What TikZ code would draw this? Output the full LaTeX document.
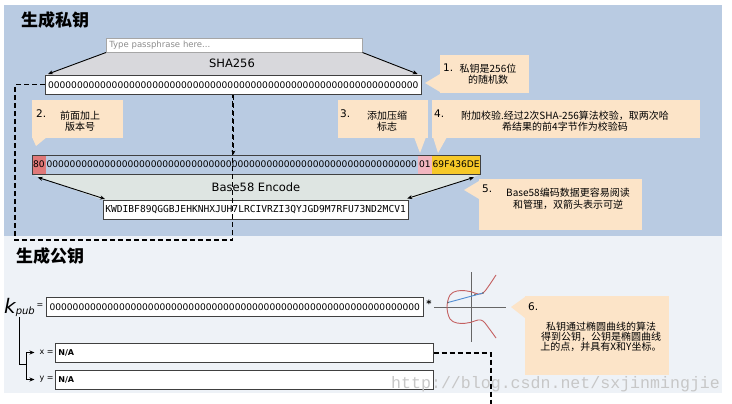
\documentclass[tikz,border=0pt]{standalone}
\usepackage{fontspec}
\usetikzlibrary{arrows.meta,fit,calc}
\setmainfont{DejaVu Sans}
\newfontfamily\cjk{Noto Sans CJK SC}
\newfontfamily\monof{DejaVu Sans Mono}
\newfontfamily\wmf{Liberation Mono}
\definecolor{panelblue}{RGB}{185,203,226}
\definecolor{panellow}{RGB}{238,242,247}
\definecolor{peach}{RGB}{252,228,200}
\definecolor{shagray}{RGB}{216,216,220}
\definecolor{bsgreen}{RGB}{222,229,226}
\definecolor{red80}{RGB}{224,120,120}
\definecolor{pink01}{RGB}{242,182,192}
\definecolor{yelchk}{RGB}{246,200,40}
\definecolor{curvered}{RGB}{196,96,96}
\definecolor{lineblue}{RGB}{80,140,210}
\newcommand\zfont{\fontsize{9.1}{10}\selectfont}
\newcommand\zeight{00000000}
\newcommand\zsixtyfour{\zeight\zeight\zeight\zeight\zeight\zeight\zeight\zeight}
\pgfdeclarelayer{background}
\pgfsetlayers{background,main}
\tikzset{
  keybox/.style={draw=black!75, line width=0.7pt, fill=white, inner sep=0pt, minimum height=19pt, font=\zfont, anchor=north west},
  seg/.style={inner xsep=1pt, inner ysep=0pt, minimum height=19pt, font=\zfont, anchor=west, outer sep=0pt},
  callbox/.style={fill=peach, inner sep=0pt, anchor=north west},
  ctext/.style={font=\cjk\fontsize{10}{11.5}\selectfont, align=center, inner sep=0pt},
  cnum/.style={font=\fontsize{10.5}{12}\selectfont, inner sep=0pt, anchor=west},
  titletext/.style={font=\cjk\bfseries\fontsize{17}{17}\selectfont, inner sep=0pt, anchor=west},
  dashln/.style={line width=1.3pt, dash pattern=on 5pt off 3pt},
  arr/.style={-{Stealth[length=5pt,width=4pt]}, line width=0.9pt},
  darr/.style={{Stealth[length=5pt,width=4pt]}-{Stealth[length=5pt,width=4pt]}, line width=0.9pt},
  small/.style={font=\fontsize{8}{9}\selectfont, inner sep=0pt},
  nabox/.style={draw=black!75, line width=0.7pt, fill=white, inner xsep=3pt, inner ysep=0pt, minimum height=19pt, text width=372pt, align=left, anchor=north west, font=\bfseries\fontsize{8}{9}\selectfont},
}
\begin{document}
\begin{tikzpicture}[x=1pt,y=-1pt]
\useasboundingbox (0,0) rectangle (732,404);
\begin{pgfonlayer}{background}
\fill[white] (0,0) rectangle (732,404);
\fill[panelblue] (4,5) rectangle (722,236);
\fill[panellow] (4,236) rectangle (722,393);
\end{pgfonlayer}

% titles
\node[titletext] (t1) at (21,20) {生成私钥};
\node[titletext] (t2) at (16,256) {生成公钥};

% passphrase and SHA256
\node[draw=black!35, line width=0.5pt, fill=white, inner xsep=3pt, inner ysep=0pt, minimum height=14pt, text width=250pt, align=left, anchor=north west, text=black!45, font=\fontsize{8.5}{10}\selectfont] (pass) at (106,38) {Type passphrase here...};
\node[keybox, minimum width=376pt] (key1) at (45,75) {\zsixtyfour};
\begin{pgfonlayer}{background}
\fill[shagray] (pass.south west) -- (pass.south east) -- (key1.north east) -- (key1.north west) -- cycle;
\end{pgfonlayer}
\node[font=\fontsize{11.5}{12}\selectfont, inner sep=0pt] (sha) at (232,63) {SHA256};
\draw[arr] (pass.south west) -- ([xshift=3pt,yshift=1pt]key1.north west);
\draw[arr] (pass.south east) -- ([xshift=-4pt,yshift=1pt]key1.north east);

% callout 1
\node[callbox, minimum width=89pt, minimum height=38pt] (c1) at (440,55) {};
\fill[peach] (440,74) -- (425,83) -- (440,92) -- cycle;
\node[cnum] (n1) at (443,68) {1.};
\node[ctext] (c1t) at (488,74) {私钥是256位\\的随机数};

% callout 2
\node[callbox, minimum width=91pt, minimum height=38pt] (c2) at (32,100) {};
\fill[peach] (32,137) -- (36,146) -- (47,137) -- cycle;
\node[cnum] (n2) at (36,114) {2.};
\node[ctext] (c2t) at (80,121) {前面加上\\版本号};

% callout 3
\node[callbox, minimum width=90pt, minimum height=38pt] (c3) at (338,100) {};
\fill[peach] (414,137) -- (420,153) -- (426,137) -- cycle;
\node[cnum] (n3) at (340,114) {3.};
\node[ctext] (c3t) at (387,121) {添加压缩\\标志};

% callout 4
\node[callbox, minimum width=268pt, minimum height=38pt] (c4) at (432,100) {};
\fill[peach] (433,137) -- (438,153) -- (447,137) -- cycle;
\node[cnum] (n4) at (434,114) {4.};
\node[ctext] (c4t) at (565,121) {附加校验.经过2次SHA-256算法校验，取两次哈\\希结果的前4字节作为校验码};

% key 2 with segments
\node[seg, fill=red80] (v80) at (32,164.5) {80};
\node[seg] (z2) at (v80.east) {\zsixtyfour};
\node[seg, fill=pink01] (c01) at (z2.east) {01};
\node[seg, fill=yelchk] (chk) at (c01.east) {69F436DE};
\node[draw=black!75, line width=0.7pt, fit=(v80)(chk), inner sep=0pt] (key2) {};

% output
\node[draw=black!75, line width=0.7pt, fill=white, minimum height=19pt, inner xsep=2pt, inner ysep=0pt, anchor=north west, font=\monof\fontsize{9.6}{10}\selectfont] (out) at (103,200) {KWDIBF89QGGBJEHKNHXJUH7LRCIVRZI3QYJGD9M7RFU73ND2MCV1};
\begin{pgfonlayer}{background}
\fill[bsgreen] (key2.south west) -- (key2.south east) -- (out.north east) -- (out.north west) -- cycle;
\end{pgfonlayer}
\node[font=\fontsize{11.5}{12}\selectfont, inner sep=0pt] (b58) at (256,187) {Base58 Encode};
\draw[darr] ([xshift=6pt,yshift=-3pt]key2.south west) -- ([xshift=2pt,yshift=1pt]out.north west);
\draw[darr] ([xshift=-7pt,yshift=-3pt]key2.south east) -- ([xshift=-1pt,yshift=1.5pt]out.north east);

% callout 5
\node[callbox, minimum width=163pt, minimum height=51pt] (c5) at (479,179) {};
\fill[peach] (479,181) -- (464,190) -- (479,199) -- cycle;
\node[cnum] (n5) at (482,189) {5.};
\node[ctext] (c5t) at (568,199) {Base58编码数据更容易阅读\\和管理，双箭头表示可逆};

% dashed flow
\draw[dashln, -{Stealth[length=4pt,width=4pt]}] (key1.south) -- (key1.south |- key2.north);
\coordinate (dl1) at (15,240);
\draw[dashln] (key1.west) -| (dl1) -| ($(key1.south)+(-1,0)$ |- 0,297);

% public key
\node[keybox, minimum width=377pt] (kp) at (46,297) {\zsixtyfour};
\node[anchor=base west, inner sep=0pt] (kpub) at (4,313) {\fontsize{20}{20}\selectfont\itshape k\fontsize{10}{10}\selectfont\raisebox{-1.5pt}{pub}};
\node[small] (kpeq) at (40,306) {=};
\node[font=\bfseries\fontsize{10}{10}\selectfont, inner sep=0pt] (star) at (429,304) {*};

\node[nabox] (xbox) at (55,343) {N/A};
\node[nabox] (ybox) at (55,370) {N/A};
\node[small, anchor=west] (xl) at (39.5,352.5) {x =};
\node[small, anchor=west] (yl) at (39.5,379.5) {y =};
\coordinate (br) at (26,364);
\draw[line width=0.9pt] (kpub.south) |- (br);
\draw[arr, shorten >=5pt] (br) |- (xl.west);
\draw[arr, shorten >=5pt] (br) |- (yl.west);
\coordinate (dend) at (491,404);
\draw[dashln] (xbox.east) -| (dend);

% elliptic curve
\begin{scope}[shift={(471,307)}, yscale=-1]
\draw[black!60, line width=0.6pt] (-37,0) -- (35,0);
\draw[black!60, line width=0.6pt] (0,35) -- (0,-35);
\draw[curvered, line width=0.9pt] plot[smooth, tension=0.6] coordinates {(25,32) (17,20) (12,14) (7,13) (0,15.3) (-6,16.3) (-14,16) (-21,12) (-24,0) (-21,-12) (-14,-16) (-6,-16.3) (0,-15.3) (7,-13) (12,-14) (17,-20) (25,-31)};
\draw[lineblue, line width=0.9pt] (-23,4.5) -- (12,14);
\fill[black!60] (-23,4.5) circle (0.8);
\fill[black!60] (4,12.5) circle (0.8);
\fill[black!60] (12,14) circle (0.8);
\end{scope}

% callout 6
\node[callbox, minimum width=144pt, minimum height=79pt] (c6) at (525,296) {};
\fill[peach] (525,297) -- (511,307) -- (525,318) -- cycle;
\node[cnum] (n6) at (528,307) {6.};
\node[ctext, font=\cjk\fontsize{10}{10.3}\selectfont] (c6t) at (601,337) {私钥通过椭圆曲线的算法\\得到公钥，公钥是椭圆曲线\\上的点，并具有X和Y坐标。};

% watermark
\node[font=\wmf\fontsize{16.6}{17}\selectfont, text=black!22, anchor=west, inner sep=0pt] (wm) at (391,384) {http://blog.csdn.net/sxjinmingjie};
\end{tikzpicture}
\end{document}
